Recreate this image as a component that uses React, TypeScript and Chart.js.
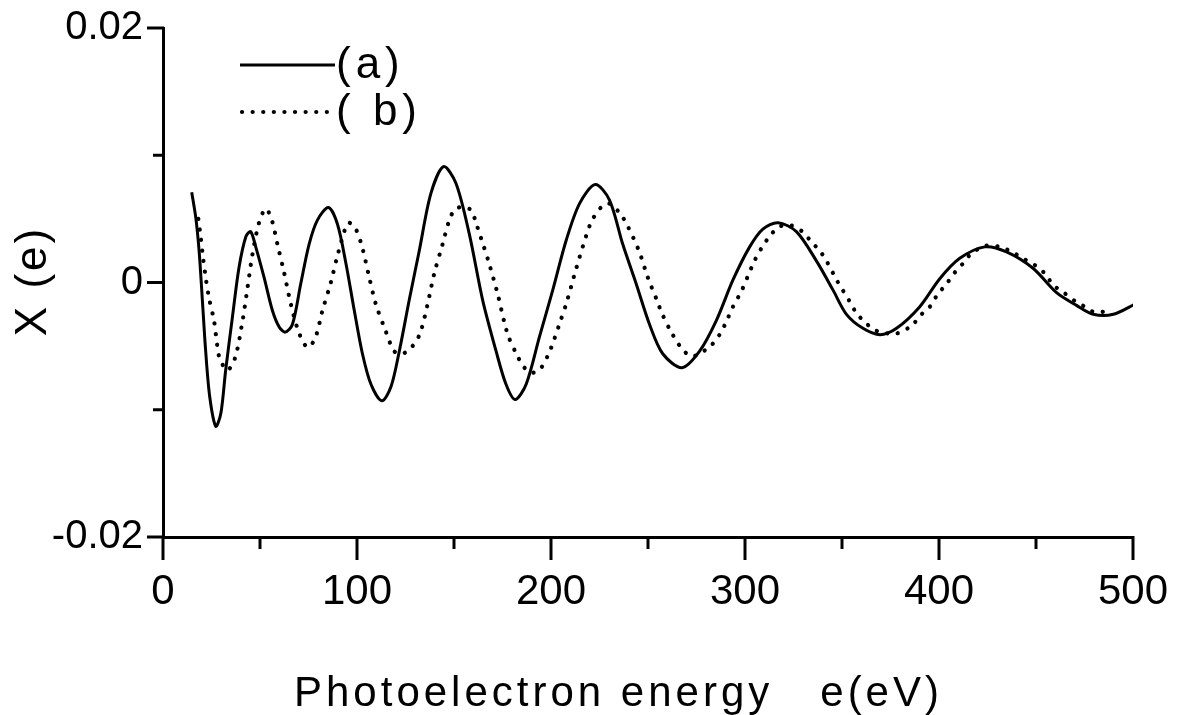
import { useEffect, useRef } from 'react';
import { Chart, registerables } from 'chart.js';

Chart.register(...registerables);

// Curve (a): solid line  (photoelectron energy in eV, chi(e))
const energyA = [14.8, 16.9, 18.6, 20.3, 22.0, 24.1, 27.2, 29.8, 32.3, 35.8, 39.2, 42.7, 45.2, 47.8, 52.1, 56.4, 59.9, 63.0, 66.7, 71.0, 75.3, 79.6, 85.3, 89.9, 94.3, 98.6, 102.8, 107.2, 112.8, 117.5, 121.8, 126.9, 132.1, 138.1, 144.6, 151.0, 157.9, 164.8, 171.7, 176.8, 181.5, 187.2, 194.0, 200.9, 207.8, 214.7, 222.8, 230.1, 237.0, 243.9, 250.8, 257.6, 267.5, 276.6, 285.2, 293.8, 302.4, 309.2, 317.0, 326.5, 336.8, 345.4, 352.3, 360.8, 369.6, 378.1, 390.1, 400.4, 410.7, 423.6, 434.8, 448.6, 460.6, 470.9, 479.5, 489.9, 501];
const chiA = [0.0071, 0.0051, 0.0025, -0.0014, -0.0054, -0.009, -0.0113, -0.0103, -0.0069, -0.0027, 0.0012, 0.0036, 0.004, 0.0028, 0.0004, -0.0022, -0.0035, -0.0039, -0.0033, -0.0001, 0.003, 0.0049, 0.0059, 0.0046, 0.0015, -0.0022, -0.0056, -0.008, -0.0093, -0.0082, -0.0054, -0.0014, 0.0025, 0.007, 0.0091, 0.0078, 0.0038, -0.0014, -0.0054, -0.008, -0.0092, -0.008, -0.0043, -0.0006, 0.0033, 0.0062, 0.0077, 0.0065, 0.003, -0.0001, -0.0033, -0.0056, -0.0067, -0.0054, -0.003, 0.0002, 0.0028, 0.0042, 0.0047, 0.004, 0.0017, -0.0006, -0.0025, -0.0036, -0.0041, -0.0036, -0.0019, 0.0003, 0.0019, 0.0028, 0.0024, 0.0011, -0.0008, -0.0018, -0.0025, -0.0025, -0.0017];

// Curve (b): dotted line
const energyB = [18.2, 19.4, 20.6, 22.0, 23.7, 26.3, 28.0, 29.3, 33.2, 37.2, 40.9, 43.2, 46.1, 49.5, 53.0, 56.1, 59.0, 62.4, 65.9, 70.2, 74.5, 78.4, 82.2, 86.5, 89.9, 94.3, 96.0, 99.4, 102.8, 106.3, 109.7, 114.0, 119.2, 123.5, 128.6, 132.5, 136.4, 139.8, 144.1, 147.6, 150.7, 154.4, 158.8, 161.3, 163.9, 167.9, 172.5, 175.9, 178.2, 182.8, 185.8, 189.7, 194.4, 198.8, 201.8, 204.7, 207.8, 213.0, 218.4, 221.2, 225.8, 230.1, 235.7, 239.3, 245.3, 249.9, 254.6, 257.1, 262.0, 268.0, 273.1, 282.1, 286.9, 290.3, 293.8, 298.1, 301.2, 304.9, 308.9, 313.6, 317.9, 323.5, 329.6, 334.2, 338.5, 342.0, 347.6, 354.0, 357.4, 361.7, 367.7, 378.1, 385.8, 391.0, 395.3, 399.0, 403.9, 408.2, 412.4, 416.8, 424.5, 431.4, 437.7, 443.1, 449.1, 454.6, 458.9, 464.4, 470.4, 475.2, 479.5, 486.4];
const chiB = [0.005, 0.0036, 0.002, 0.0004, -0.0012, -0.003, -0.005, -0.006, -0.0069, -0.0059, -0.0031, -0.0008, 0.0022, 0.0047, 0.0058, 0.0049, 0.003, 0.0008, -0.0017, -0.004, -0.0051, -0.0044, -0.0022, 0.0, 0.0021, 0.0044, 0.0047, 0.0042, 0.0027, 0.0004, -0.0017, -0.0035, -0.0054, -0.0056, -0.005, -0.004, -0.0017, 0.0007, 0.003, 0.0049, 0.0058, 0.0059, 0.0057, 0.0047, 0.0035, 0.0016, -0.0009, -0.0031, -0.0043, -0.0058, -0.0066, -0.0071, -0.0068, -0.0056, -0.0044, -0.0031, -0.0017, 0.0011, 0.0038, 0.0049, 0.0059, 0.0062, 0.0054, 0.0045, 0.0025, 0.0004, -0.0014, -0.0024, -0.0039, -0.0053, -0.0058, -0.005, -0.0041, -0.0031, -0.0019, -0.0007, 0.0004, 0.0017, 0.0028, 0.0038, 0.0044, 0.0045, 0.004, 0.0032, 0.0025, 0.0017, 0.0001, -0.0015, -0.0024, -0.0031, -0.0038, -0.004, -0.0034, -0.0025, -0.0019, -0.001, -0.0001, 0.0008, 0.0015, 0.0023, 0.0029, 0.0028, 0.0024, 0.0019, 0.0014, 0.0007, -0.0002, -0.0008, -0.0015, -0.0019, -0.0023, -0.0023];

const xTickValues = [0, 100, 200, 300, 400, 500];
const xMinorTickValues = [50, 150, 250, 350, 450];
const yTickValues = [-0.02, 0, 0.02];
const yTickLabels = ['-0.02', '0', '0.02'];
const yMinorTickValues = [-0.01, 0.01];
const seriesLabels = ['(a)', '( b)'];
const xTitle = 'Photoelectron energy   e(eV)';
const yTitle = 'X (e)';

const FONT = '"Liberation Sans", Arial, sans-serif';
const DOT_DASH = [0.1, 10.5];

const decorPlugin = {
  id: 'decor',
  afterDraw(chart: any) {
    const ctx = chart.ctx;
    const xs = chart.scales.x;
    const ys = chart.scales.y;
    const { left, bottom } = chart.chartArea;
    ctx.save();
    ctx.strokeStyle = '#000';
    ctx.fillStyle = '#000';
    ctx.lineWidth = 3;
    ctx.lineCap = 'butt';
    // x ticks (downwards)
    const drawX = (v: number, len: number) => {
      const px = xs.getPixelForValue(v);
      ctx.beginPath();
      ctx.moveTo(px, bottom - 1);
      ctx.lineTo(px, bottom + len);
      ctx.stroke();
    };
    xTickValues.forEach((v) => drawX(v, 23));
    xMinorTickValues.forEach((v) => drawX(v, 12));
    // y ticks (to the left)
    const drawY = (v: number, len: number) => {
      const py = ys.getPixelForValue(v);
      ctx.beginPath();
      ctx.moveTo(left + 1, py);
      ctx.lineTo(left - len, py);
      ctx.stroke();
    };
    yTickValues.forEach((v) => drawY(v, 16));
    yMinorTickValues.forEach((v) => drawY(v, 10));

    // legend
    const legendX0 = 240;
    const legendX1 = 335;
    const legendY = [65, 112];
    ctx.lineWidth = 3;
    ctx.beginPath();
    ctx.moveTo(legendX0, legendY[0]);
    ctx.lineTo(legendX1, legendY[0]);
    ctx.stroke();
    ctx.lineWidth = 4.2;
    ctx.lineCap = 'round';
    ctx.setLineDash(DOT_DASH);
    ctx.beginPath();
    ctx.moveTo(legendX0 + 2, legendY[1]);
    ctx.lineTo(legendX1, legendY[1]);
    ctx.stroke();
    ctx.setLineDash([]);
    ctx.font = `44px ${FONT}`;
    (ctx as any).letterSpacing = '5px';
    ctx.textAlign = 'left';
    ctx.textBaseline = 'middle';
    ctx.fillText(seriesLabels[0], legendX1 + 1, legendY[0] + 1);
    ctx.fillText(seriesLabels[1], legendX1 + 1, legendY[1] + 1);

    // x title
    ctx.font = `42px ${FONT}`;
    (ctx as any).letterSpacing = '4px';
    ctx.textAlign = 'left';
    ctx.textBaseline = 'alphabetic';
    ctx.fillText(xTitle, 294, 706);
    // y title
    ctx.font = `44px ${FONT}`;
    (ctx as any).letterSpacing = '3px';
    ctx.translate(46, 281);
    ctx.rotate(-Math.PI / 2);
    ctx.textAlign = 'center';
    ctx.fillText(yTitle, 0, 0);
    ctx.restore();
  },
};

const zeroPadding = (scale: any) => {
  scale.paddingLeft = 0;
  scale.paddingRight = 0;
  scale.paddingTop = 0;
  scale.paddingBottom = 0;
};

export default function App() {
  const canvasRef = useRef<HTMLCanvasElement | null>(null);

  useEffect(() => {
    if (!canvasRef.current) return;
    Chart.defaults.font.family = FONT;
    const chart = new Chart(canvasRef.current, {
      type: 'line',
      data: {
        datasets: [
          {
            label: seriesLabels[0],
            data: energyA.map((x, i) => ({ x, y: chiA[i] })),
            borderColor: '#000',
            borderWidth: 3,
            pointRadius: 0,
            fill: false,
            tension: 0.3,
          },
          {
            label: seriesLabels[1],
            data: energyB.map((x, i) => ({ x, y: chiB[i] })),
            borderColor: '#000',
            borderWidth: 4.2,
            borderDash: DOT_DASH,
            borderCapStyle: 'round',
            pointRadius: 0,
            fill: false,
            tension: 0.3,
          },
        ],
      },
      options: {
        responsive: false,
        animation: false,
        devicePixelRatio: 1,
        layout: { padding: { top: 28, right: 44, left: 0, bottom: 0 } },
        plugins: { legend: { display: false }, tooltip: { enabled: false } },
        scales: {
          x: {
            type: 'linear',
            min: 0,
            max: 500,
            grid: { display: false, drawTicks: false },
            border: { display: true, color: '#000', width: 3 },
            afterBuildTicks: (scale: any) => {
              scale.ticks = xTickValues.map((v) => ({ value: v }));
            },
            afterFit: (scale: any) => {
              scale.height = 715 - 537;
              zeroPadding(scale);
            },
            ticks: {
              color: '#000',
              font: { size: 42, family: FONT },
              padding: 30,
              maxRotation: 0,
              autoSkip: false,
              callback: (v: any) => String(v),
            },
          },
          y: {
            type: 'linear',
            min: -0.02,
            max: 0.02,
            grid: { display: false, drawTicks: false },
            border: { display: true, color: '#000', width: 3 },
            afterBuildTicks: (scale: any) => {
              scale.ticks = yTickValues.map((v) => ({ value: v }));
            },
            afterFit: (scale: any) => {
              scale.width = 163;
              zeroPadding(scale);
            },
            ticks: {
              color: '#000',
              font: { size: 40, family: FONT },
              padding: 20,
              autoSkip: false,
              callback: (_v: any, i: number) => yTickLabels[i],
            },
          },
        },
      },
      plugins: [decorPlugin],
    } as any);
    return () => chart.destroy();
  }, []);

  return (
    <div style={{ position: 'absolute', left: 0, top: 0, width: 1177, height: 715, background: '#fff' }}>
      <canvas ref={canvasRef} width={1177} height={715} />
    </div>
  );
}
